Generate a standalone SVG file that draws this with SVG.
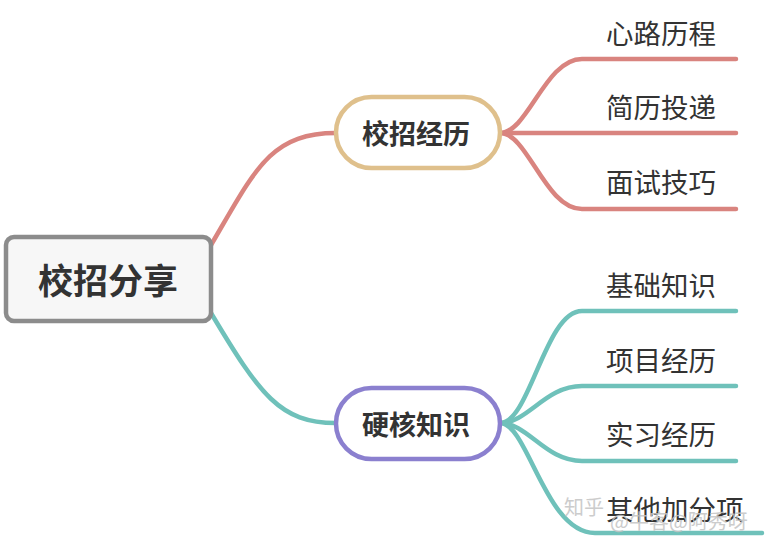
<svg xmlns="http://www.w3.org/2000/svg" width="768" height="540" viewBox="0 0 768 540">
<style>
.red{fill:none;stroke:#d9847f;stroke-width:4.5;stroke-linecap:round}
.teal{fill:none;stroke:#6fc1ba;stroke-width:4.5;stroke-linecap:round}
.leaf{font-family:"Noto Sans CJK SC","Noto Sans",sans-serif;font-size:27.5px;fill:#333;dominant-baseline:central}
.mid{font-family:"Noto Sans CJK SC","Noto Sans",sans-serif;font-size:27px;font-weight:bold;fill:#333;text-anchor:middle;dominant-baseline:central}
.wm{font-family:"Noto Sans CJK SC","Noto Sans",sans-serif;fill:#c4c4c4;dominant-baseline:central}
</style>
<rect width="768" height="540" fill="#ffffff"/>
<g id="connectors">
<path class="red" d="M211,245 C255,170 270,133 336,133"/>
<path class="teal" d="M211,313 C260,395 280,423 336,423"/>
<path class="red" d="M500,133 C528,133 545,59 582,59 L736,59"/>
<path class="red" d="M500,133 L736,133"/>
<path class="red" d="M500,133 C528,133 545,209 582,209 L736,209"/>
<path class="teal" d="M500,423 C530,423 545,311 582,311 L736,311"/>
<path class="teal" d="M500,423 C528,423 545,386 582,386 L736,386"/>
<path class="teal" d="M500,423 C528,423 545,461 582,461 L736,461"/>
<path class="teal" d="M500,423 C528,423 545,533 595,533 L762,533"/>
</g>
<g id="root">
<rect x="6" y="237" width="205" height="84" rx="8" fill="#f7f7f7" stroke="#8c8c8c" stroke-width="4.5"/>
<text x="108" y="278" class="mid" style="font-size:35px">校招分享</text>
</g>
<g id="n1">
<rect x="336" y="97" width="164" height="71" rx="35.5" fill="#ffffff" stroke="#dfc08c" stroke-width="4.5"/>
<text x="416" y="132" class="mid">校招经历</text>
</g>
<g id="n2">
<rect x="336" y="388" width="164" height="71" rx="35.5" fill="#ffffff" stroke="#8b80cf" stroke-width="4.5"/>
<text x="416" y="423" class="mid">硬核知识</text>
</g>
<g id="l1"><text x="606" y="32" class="leaf">心路历程</text></g>
<g id="l2"><text x="606" y="106" class="leaf">简历投递</text></g>
<g id="l3"><text x="606" y="181" class="leaf">面试技巧</text></g>
<g id="l4"><text x="606" y="284" class="leaf">基础知识</text></g>
<g id="l5"><text x="606" y="359" class="leaf">项目经历</text></g>
<g id="l6"><text x="606" y="433" class="leaf">实习经历</text></g>
<g id="l7"><text x="606" y="508" class="leaf">其他加分项</text></g>
<g id="watermark" opacity="0.85">
<text x="564" y="506" class="wm" style="font-size:20px">知乎</text>
<text x="610" y="520" class="wm" style="font-size:20px">@牛客@阿秀呀</text>
</g>
</svg>
